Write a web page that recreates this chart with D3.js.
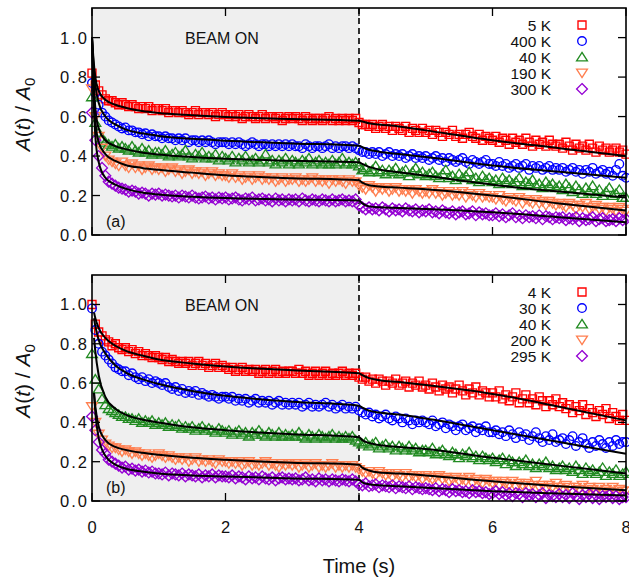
<!DOCTYPE html>
<html><head><meta charset="utf-8">
<script src="https://cdn.jsdelivr.net/npm/d3@7"></script>
<style>body{margin:0;background:#fff;} svg{display:block;font-family:"Liberation Sans",Arial,sans-serif;}</style>
</head><body><svg id="chart" width="629" height="580"></svg>
<script>
// ---------------- DATA ----------------
const sampleTimes = [
0,.05,.1,.15,.2,.25,.3,.35,.4,.45,.5,.55,.6,.65,.7,.75,.8,.85,.9,.95,
1,1.05,1.1,1.15,1.2,1.25,1.3,1.35,1.4,1.45,1.5,1.55,1.6,1.65,1.7,1.75,1.8,1.85,1.9,1.95,
2,2.05,2.1,2.15,2.2,2.25,2.3,2.35,2.4,2.45,2.5,2.55,2.6,2.65,2.7,2.75,2.8,2.85,2.9,2.95,
3,3.05,3.1,3.15,3.2,3.25,3.3,3.35,3.4,3.45,3.5,3.55,3.6,3.65,3.7,3.75,3.8,3.85,3.9,3.95,
4,4.05,4.1,4.15,4.2,4.25,4.3,4.35,4.4,4.45,4.5,4.55,4.6,4.65,4.7,4.75,4.8,4.85,4.9,4.95,
5,5.05,5.1,5.15,5.2,5.25,5.3,5.35,5.4,5.45,5.5,5.55,5.6,5.65,5.7,5.75,5.8,5.85,5.9,5.95,
6,6.05,6.1,6.15,6.2,6.25,6.3,6.35,6.4,6.45,6.5,6.55,6.6,6.65,6.7,6.75,6.8,6.85,6.9,6.95,
7,7.05,7.1,7.15,7.2,7.25,7.3,7.35,7.4,7.45,7.5,7.55,7.6,7.65,7.7,7.75,7.8,7.85,7.9,7.95,
8];
const xTicks = [0, 2, 4, 6, 8];
const yTicks = [0, 0.2, 0.4, 0.6, 0.8, 1.0];
const beamOffTime = 4;
const labelsA = ["5 K", "400 K", "40 K", "190 K", "300 K"];
const labelsB = ["4 K", "30 K", "40 K", "200 K", "295 K"];

// Panel (a) measured points
const a5K = [
.82,.76,.73,.71,.69,.68,.68,.67,.66,.67,.66,.65,.66,.65,.64,.65,.64,.65,.63,.64,
.64,.63,.64,.62,.63,.63,.62,.63,.62,.61,.62,.63,.61,.62,.62,.61,.62,.60,.61,.62,
.61,.60,.61,.60,.61,.59,.60,.61,.60,.59,.60,.61,.59,.60,.60,.59,.60,.58,.59,.60,
.59,.60,.59,.58,.60,.59,.58,.59,.59,.58,.59,.60,.58,.59,.58,.59,.58,.59,.58,.59,
.57,.56,.56,.55,.56,.54,.55,.56,.54,.55,.53,.55,.54,.53,.55,.52,.54,.53,.52,.54,
.52,.53,.51,.53,.52,.50,.52,.51,.53,.50,.51,.49,.51,.52,.50,.49,.51,.48,.50,.49,
.48,.50,.47,.49,.48,.46,.49,.47,.48,.46,.49,.47,.45,.48,.46,.47,.45,.48,.46,.45,
.46,.44,.47,.45,.43,.46,.44,.45,.43,.46,.44,.42,.45,.43,.44,.42,.43,.44,.42,.43,
.41];
const a400K = [
.77,.72,.66,.62,.60,.58,.57,.56,.55,.54,.545,.53,.53,.52,.52,.51,.515,.50,.51,.50,
.50,.49,.50,.49,.49,.48,.49,.48,.49,.47,.48,.48,.47,.48,.47,.48,.47,.46,.47,.47,
.47,.46,.47,.46,.47,.46,.45,.46,.47,.46,.45,.46,.46,.45,.46,.45,.46,.45,.46,.45,
.46,.45,.45,.44,.46,.45,.44,.45,.45,.44,.45,.46,.44,.45,.44,.45,.45,.44,.45,.44,
.43,.42,.42,.41,.42,.41,.42,.40,.41,.42,.40,.41,.40,.41,.39,.40,.41,.39,.40,.39,
.40,.38,.39,.40,.38,.39,.37,.39,.38,.37,.38,.39,.37,.36,.38,.37,.36,.37,.38,.36,
.36,.35,.37,.35,.36,.34,.35,.36,.34,.35,.36,.33,.35,.34,.35,.33,.34,.35,.33,.34,
.33,.34,.32,.33,.34,.32,.33,.31,.33,.32,.34,.31,.32,.33,.31,.32,.30,.33,.36,.30,
.29];
const a40K = [
.70,.57,.52,.49,.47,.46,.45,.46,.44,.45,.44,.43,.45,.43,.42,.44,.42,.43,.41,.42,
.42,.41,.43,.40,.41,.42,.40,.41,.43,.40,.39,.41,.40,.42,.39,.40,.39,.41,.38,.40,
.39,.38,.40,.37,.39,.38,.40,.37,.38,.39,.37,.38,.41,.37,.38,.36,.38,.37,.39,.36,
.38,.37,.36,.38,.37,.39,.36,.37,.38,.36,.37,.36,.38,.36,.37,.39,.36,.37,.36,.37,
.35,.33,.34,.32,.33,.35,.32,.33,.31,.33,.32,.34,.31,.32,.33,.30,.32,.34,.31,.32,
.30,.31,.32,.30,.29,.31,.33,.29,.30,.28,.31,.29,.30,.32,.28,.29,.27,.30,.28,.29,
.27,.28,.26,.29,.27,.28,.26,.27,.29,.25,.27,.26,.28,.25,.26,.24,.27,.25,.26,.24,
.25,.23,.26,.24,.22,.25,.23,.21,.24,.22,.25,.21,.23,.20,.22,.24,.20,.21,.23,.19,
.19];
const a190K = [
.74,.60,.50,.44,.40,.38,.37,.36,.35,.37,.35,.34,.36,.34,.35,.33,.34,.35,.33,.34,
.33,.34,.32,.33,.34,.32,.33,.31,.32,.33,.31,.32,.31,.32,.30,.31,.32,.30,.31,.30,
.30,.29,.31,.29,.30,.28,.29,.30,.28,.29,.30,.28,.29,.28,.29,.27,.28,.29,.27,.28,
.28,.29,.27,.28,.27,.28,.29,.27,.28,.27,.28,.26,.28,.27,.28,.27,.26,.28,.27,.27,
.25,.24,.23,.25,.24,.22,.24,.23,.24,.22,.23,.24,.22,.23,.22,.23,.21,.23,.22,.21,
.22,.21,.23,.21,.22,.20,.21,.22,.20,.21,.20,.22,.19,.21,.20,.19,.21,.19,.20,.19,
.19,.18,.20,.18,.17,.19,.18,.17,.19,.16,.18,.17,.16,.18,.16,.17,.15,.17,.16,.15,
.16,.15,.14,.16,.15,.13,.15,.14,.16,.13,.14,.15,.13,.14,.12,.14,.13,.12,.14,.13,
.12];
const a300K = [
.62,.48,.40,.34,.30,.27,.26,.25,.24,.235,.23,.22,.225,.22,.21,.215,.21,.20,.21,.205,
.21,.20,.205,.20,.195,.20,.19,.20,.195,.19,.20,.19,.185,.19,.195,.185,.19,.18,.19,.185,
.19,.18,.185,.19,.18,.175,.185,.18,.19,.175,.18,.185,.175,.18,.17,.185,.175,.18,.17,.18,
.175,.18,.17,.185,.175,.17,.18,.175,.17,.18,.175,.17,.18,.17,.175,.18,.17,.175,.17,.18,
.15,.14,.13,.14,.13,.135,.125,.14,.13,.12,.135,.125,.13,.12,.135,.125,.12,.13,.115,.125,
.12,.13,.115,.12,.11,.125,.115,.11,.12,.105,.115,.12,.105,.11,.12,.10,.115,.105,.11,.10,
.10,.11,.095,.105,.09,.10,.11,.09,.10,.085,.10,.09,.095,.085,.10,.08,.095,.09,.08,.09,
.085,.09,.075,.085,.08,.09,.07,.085,.075,.08,.09,.07,.08,.085,.07,.075,.08,.07,.085,.075,
.08];

// Panel (b) measured points
const b4K = [
1.00,.90,.86,.84,.82,.81,.79,.80,.78,.77,.78,.76,.77,.75,.76,.74,.75,.74,.73,.74,
.73,.72,.73,.71,.72,.71,.70,.71,.70,.71,.69,.70,.71,.69,.70,.68,.69,.70,.68,.69,
.68,.67,.68,.66,.67,.68,.66,.67,.66,.67,.65,.66,.67,.65,.66,.67,.65,.66,.65,.66,
.66,.65,.67,.65,.66,.64,.65,.66,.64,.65,.66,.64,.65,.64,.65,.66,.64,.65,.64,.65,
.63,.62,.63,.61,.62,.60,.62,.61,.59,.61,.60,.62,.59,.60,.61,.58,.60,.59,.61,.58,
.59,.57,.60,.58,.56,.59,.57,.58,.55,.57,.59,.56,.54,.57,.55,.58,.54,.56,.55,.53,
.55,.53,.56,.52,.54,.51,.53,.55,.50,.52,.54,.50,.52,.49,.53,.51,.48,.51,.49,.52,
.48,.50,.47,.49,.45,.48,.46,.49,.44,.47,.45,.43,.46,.44,.47,.42,.45,.43,.41,.44,
.41];
const b30K = [
.98,.87,.80,.76,.74,.72,.70,.68,.67,.66,.66,.64,.65,.63,.62,.63,.61,.62,.60,.61,
.60,.59,.60,.58,.57,.58,.56,.57,.55,.56,.55,.56,.54,.55,.54,.53,.54,.53,.52,.53,
.53,.52,.53,.51,.52,.51,.52,.50,.51,.52,.50,.51,.50,.51,.49,.50,.51,.49,.50,.49,
.50,.49,.50,.48,.49,.50,.48,.49,.48,.49,.50,.48,.49,.47,.48,.49,.47,.48,.47,.48,
.46,.45,.44,.45,.43,.44,.42,.43,.44,.42,.41,.43,.42,.40,.42,.41,.39,.41,.40,.41,
.40,.39,.41,.38,.39,.40,.37,.39,.38,.36,.38,.39,.36,.37,.38,.35,.37,.36,.38,.35,
.35,.36,.34,.35,.33,.36,.34,.32,.35,.33,.34,.31,.33,.35,.32,.30,.33,.31,.34,.30,
.31,.32,.29,.31,.33,.28,.30,.32,.29,.27,.30,.28,.31,.29,.27,.30,.28,.31,.29,.30,
.30];
const b40K = [
.75,.62,.57,.52,.49,.47,.46,.45,.44,.43,.43,.42,.42,.41,.42,.40,.41,.40,.41,.39,
.40,.39,.40,.38,.39,.38,.39,.37,.38,.37,.38,.36,.37,.38,.36,.37,.36,.35,.37,.36,
.35,.36,.34,.35,.36,.34,.35,.33,.35,.34,.36,.34,.33,.35,.34,.33,.35,.33,.34,.33,
.34,.33,.35,.33,.32,.34,.33,.32,.34,.33,.32,.33,.34,.32,.33,.32,.33,.32,.33,.31,
.30,.29,.30,.28,.29,.30,.27,.28,.29,.27,.28,.26,.28,.27,.26,.28,.26,.27,.25,.26,
.26,.25,.27,.24,.25,.26,.24,.23,.25,.24,.22,.24,.23,.25,.22,.23,.21,.23,.22,.21,
.22,.20,.21,.22,.19,.21,.20,.18,.20,.19,.21,.18,.19,.17,.19,.18,.20,.17,.18,.16,
.17,.18,.16,.17,.15,.18,.16,.14,.17,.15,.16,.14,.15,.17,.13,.15,.14,.16,.13,.14,
.15];
const b200K = [
.48,.40,.34,.31,.29,.28,.27,.27,.26,.25,.26,.25,.24,.25,.24,.23,.24,.23,.22,.23,
.24,.23,.22,.23,.22,.21,.22,.21,.22,.20,.21,.22,.20,.21,.20,.21,.20,.19,.21,.20,
.20,.19,.20,.19,.20,.18,.19,.20,.18,.19,.18,.19,.20,.18,.19,.18,.17,.19,.18,.19,
.18,.19,.17,.18,.19,.17,.18,.19,.17,.18,.17,.18,.19,.17,.18,.17,.18,.17,.18,.17,
.16,.15,.14,.15,.14,.13,.15,.14,.13,.14,.12,.14,.13,.12,.14,.12,.13,.12,.13,.11,
.13,.12,.11,.12,.13,.11,.12,.10,.11,.12,.10,.11,.10,.12,.09,.11,.10,.09,.11,.10,
.09,.10,.08,.10,.09,.08,.10,.07,.09,.08,.09,.07,.08,.10,.07,.08,.06,.08,.07,.09,
.07,.06,.08,.07,.05,.07,.06,.08,.05,.07,.06,.05,.07,.04,.06,.05,.07,.04,.06,.05,
.05];
const b295K = [
.43,.36,.30,.26,.24,.21,.20,.19,.18,.17,.175,.16,.165,.155,.16,.15,.155,.145,.15,.14,
.14,.135,.145,.13,.14,.135,.13,.14,.125,.135,.13,.125,.135,.12,.13,.125,.135,.12,.13,.125,
.125,.12,.13,.115,.125,.12,.11,.125,.115,.12,.11,.125,.115,.11,.12,.105,.115,.12,.11,.115,
.11,.115,.105,.11,.12,.105,.11,.10,.115,.105,.11,.10,.11,.105,.10,.11,.105,.10,.11,.10,
.085,.08,.09,.075,.08,.085,.07,.08,.075,.07,.08,.065,.075,.07,.065,.075,.06,.07,.065,.06,
.065,.06,.055,.065,.05,.06,.055,.045,.06,.05,.055,.045,.05,.04,.055,.045,.05,.04,.045,.035,
.04,.05,.035,.045,.03,.04,.025,.04,.035,.02,.04,.03,.035,.02,.03,.04,.015,.03,.025,.02,
.035,.02,.03,.015,.04,.025,.01,.03,.02,.035,.015,.03,.01,.025,.02,.03,.015,.025,.01,.02,
.02];

// Fit curves (black lines)
const fitTimesA = [0,0.02,0.05,0.1,0.2,0.35,0.5,0.75,1,1.5,2,3,4,4.05,4.15,4.3,4.6,5,6,7,8];
const fitA5K   = [1.0,0.90,0.80,0.73,0.685,0.66,0.645,0.628,0.618,0.607,0.598,0.588,0.579,0.575,0.566,0.56,0.55,0.53,0.48,0.44,0.40];
const fitA400K = [1.0,0.88,0.76,0.67,0.60,0.56,0.535,0.515,0.502,0.487,0.477,0.464,0.452,0.445,0.432,0.422,0.41,0.395,0.352,0.32,0.29];
const fitA40K  = [1.0,0.82,0.64,0.54,0.48,0.45,0.435,0.418,0.408,0.395,0.386,0.376,0.369,0.36,0.345,0.332,0.318,0.30,0.255,0.22,0.19];
const fitA190K = [1.0,0.78,0.58,0.47,0.41,0.375,0.355,0.34,0.33,0.316,0.303,0.288,0.277,0.265,0.252,0.246,0.24,0.232,0.20,0.16,0.124];
const fitA300K = [1.0,0.72,0.50,0.37,0.29,0.255,0.235,0.215,0.205,0.194,0.187,0.18,0.175,0.16,0.145,0.14,0.137,0.132,0.115,0.09,0.064];

const fitTimesB = [0.03,0.05,0.1,0.2,0.35,0.5,0.75,1,1.5,2,3,4,4.05,4.15,4.3,4.6,5,6,7,8];
const fitB4K   = [0.96,0.93,0.88,0.83,0.79,0.765,0.74,0.72,0.70,0.685,0.665,0.65,0.64,0.625,0.615,0.605,0.59,0.545,0.48,0.41];
const fitB30K  = [0.93,0.89,0.82,0.75,0.69,0.655,0.62,0.595,0.56,0.535,0.505,0.485,0.475,0.46,0.45,0.44,0.42,0.36,0.30,0.24];
const fitB40K  = [0.83,0.76,0.64,0.53,0.47,0.44,0.415,0.40,0.375,0.36,0.34,0.325,0.31,0.295,0.285,0.275,0.265,0.22,0.18,0.14];
const fitB200K = [0.55,0.48,0.38,0.31,0.275,0.26,0.245,0.235,0.22,0.21,0.195,0.185,0.17,0.155,0.145,0.14,0.13,0.10,0.075,0.055];
const fitB295K = [0.55,0.45,0.32,0.23,0.185,0.165,0.15,0.14,0.13,0.125,0.115,0.108,0.095,0.085,0.08,0.075,0.068,0.05,0.038,0.028];

// ---------------- STYLE ----------------
const colors = ["#ff0000", "#0000ff", "#228b22", "#ff7f50", "#9400d3"];
const shapes = [
  "M-4,-4h8v8h-8z",
  "M4.3,0A4.3,4.3 0 1,1 -4.3,0A4.3,4.3 0 1,1 4.3,0Z",
  "M0,-4.6L5.4,3.9L-5.4,3.9Z",
  "M0,4.6L5.4,-3.9L-5.4,-3.9Z",
  "M0,-5.4L5.4,0L0,5.4L-5.4,0Z"
];

const panels = [
  {top: 8, bottom: 235, labels: labelsA, tag: "(a)",
   series: [a5K, a400K, a40K, a190K, a300K],
   fitT: fitTimesA, fits: [fitA5K, fitA400K, fitA40K, fitA190K, fitA300K], xLabels: false},
  {top: 275, bottom: 501, labels: labelsB, tag: "(b)",
   series: [b4K, b30K, b40K, b200K, b295K],
   fitT: fitTimesB, fits: [fitB4K, fitB30K, fitB40K, fitB200K, fitB295K], xLabels: true}
];

const L = 92, R = 626;
const svg = d3.select("#chart");
const x = d3.scaleLinear().domain([0, 8]).range([L, R]);
const ink = "#111";

panels.forEach(p => {
  const y = d3.scaleLinear().domain([0, 1.15]).range([p.bottom, p.top]);
  const g = svg.append("g");
  g.append("rect").attr("x", x(0)).attr("y", p.top)
    .attr("width", x(beamOffTime) - x(0)).attr("height", p.bottom - p.top)
    .attr("fill", "#efefef");
  g.append("line").attr("x1", x(beamOffTime)).attr("x2", x(beamOffTime))
    .attr("y1", p.top).attr("y2", p.bottom)
    .attr("stroke", "#000").attr("stroke-width", 1.6).attr("stroke-dasharray", "6,4");

  p.series.forEach((vals, si) => {
    g.append("g").selectAll("path").data(vals).join("path")
      .attr("d", shapes[si])
      .attr("transform", (v, i) => `translate(${x(sampleTimes[i])},${y(v)})`)
      .attr("fill", "none").attr("stroke", colors[si]).attr("stroke-width", 1.35);
  });

  const line = d3.line().x((d, i) => x(p.fitT[i])).y(d => y(d)).curve(d3.curveMonotoneX);
  p.fits.forEach(f => {
    g.append("path").attr("d", line(f)).attr("fill", "none")
      .attr("stroke", "#000").attr("stroke-width", 2);
  });

  g.append("rect").attr("x", L).attr("y", p.top).attr("width", R - L).attr("height", p.bottom - p.top)
    .attr("fill", "none").attr("stroke", "#000").attr("stroke-width", 1.6);

  const tl = 8;
  yTicks.forEach(t => {
    g.append("line").attr("x1", L).attr("x2", L + tl).attr("y1", y(t)).attr("y2", y(t)).attr("stroke", "#000").attr("stroke-width", 1.3);
    g.append("line").attr("x1", R).attr("x2", R - tl).attr("y1", y(t)).attr("y2", y(t)).attr("stroke", "#000").attr("stroke-width", 1.3);
    g.append("text").attr("x", L - 3).attr("y", y(t) + 6).attr("text-anchor", "end")
      .attr("font-size", 16.5).attr("letter-spacing", 2).attr("fill", ink).text(d3.format(".1f")(t));
  });
  xTicks.forEach(t => {
    g.append("line").attr("x1", x(t)).attr("x2", x(t)).attr("y1", p.bottom).attr("y2", p.bottom - tl).attr("stroke", "#000").attr("stroke-width", 1.3);
    g.append("line").attr("x1", x(t)).attr("x2", x(t)).attr("y1", p.top).attr("y2", p.top + tl).attr("stroke", "#000").attr("stroke-width", 1.3);
    if (p.xLabels) {
      g.append("text").attr("x", x(t)).attr("y", p.bottom + 32).attr("text-anchor", "middle")
        .attr("font-size", 16.5).attr("fill", ink).text(t);
    }
  });

  g.append("text").attr("x", 185).attr("y", p.top + 36).attr("font-size", 16).attr("fill", ink).text("BEAM ON");
  g.append("text").attr("x", 106).attr("y", p.bottom - 8).attr("font-size", 16).attr("fill", ink).text(p.tag);

  p.labels.forEach((lab, i) => {
    const cy = p.top + 17 + i * 16;
    g.append("text").attr("x", 551).attr("y", cy + 5.5).attr("text-anchor", "end")
      .attr("font-size", 15.5).attr("fill", ink).text(lab);
    g.append("path").attr("d", shapes[i]).attr("transform", `translate(582,${cy})`)
      .attr("fill", "none").attr("stroke", colors[i]).attr("stroke-width", 1.35);
  });

  const cyl = (p.top + p.bottom) / 2 - 7;
  const yl = svg.append("text").attr("transform", `translate(30,${cyl}) rotate(-90)`)
    .attr("text-anchor", "middle").attr("font-size", 21).attr("fill", ink);
  yl.append("tspan").attr("font-style", "italic").text("A");
  yl.append("tspan").text("(");
  yl.append("tspan").attr("font-style", "italic").text("t");
  yl.append("tspan").text(") / ");
  yl.append("tspan").attr("font-style", "italic").text("A");
  yl.append("tspan").attr("font-size", 15).attr("dy", 5).text("0");
});

svg.append("text").attr("x", (L + R) / 2).attr("y", 573).attr("text-anchor", "middle")
  .attr("font-size", 20).attr("fill", ink).text("Time (s)");
</script>
</body></html>
